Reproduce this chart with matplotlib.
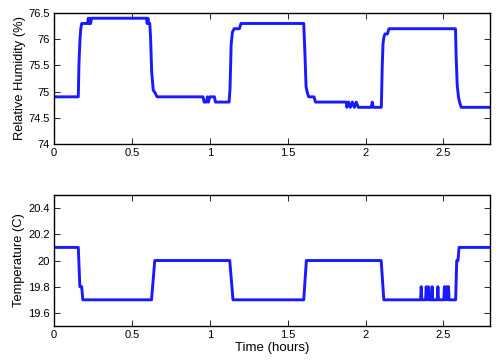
import matplotlib
matplotlib.use("Agg")
import matplotlib.pyplot as plt
from matplotlib.ticker import FuncFormatter

plt.rcParams['font.family'] = ['Liberation Sans', 'DejaVu Sans']

# Relative humidity (%) vs time (hours)
rh_time = [0, 0.156, 0.160, 0.164, 0.167, 0.172, 0.178, 0.216, 0.220, 0.226, 0.230, 0.235, 0.241,
           0.594, 0.598, 0.603, 0.608, 0.615, 0.620, 0.627, 0.637, 0.650, 0.662,
           0.957, 0.963, 0.978, 0.985, 0.991, 1.000, 1.030, 1.036, 1.124, 1.130, 1.137, 1.145,
           1.156, 1.190, 1.200, 1.603, 1.611, 1.618, 1.626, 1.635, 1.669, 1.678,
           1.876, 1.880, 1.891, 1.902, 1.915, 1.928, 1.940, 1.953, 1.966,
           2.036, 2.043, 2.049, 2.101, 2.107, 2.112, 2.118, 2.125, 2.140, 2.150,
           2.577, 2.581, 2.588, 2.596, 2.603, 2.614, 2.800]
rh_value = [74.9, 74.9, 75.5, 75.8, 76.0, 76.2, 76.3, 76.3, 76.4, 76.3, 76.4, 76.3, 76.4,
            76.4, 76.3, 76.4, 76.3, 76.3, 76.02, 75.38, 75.03, 74.97, 74.9,
            74.9, 74.8, 74.8, 74.9, 74.8, 74.9, 74.9, 74.8, 74.8, 75.06, 75.89, 76.13,
            76.2, 76.2, 76.3, 76.3, 75.7, 75.09, 74.98, 74.9, 74.9, 74.8,
            74.8, 74.7, 74.8, 74.7, 74.8, 74.7, 74.8, 74.7, 74.7,
            74.7, 74.8, 74.7, 74.7, 75.5, 75.92, 76.05, 76.1, 76.1, 76.2,
            76.2, 75.7, 75.13, 74.9, 74.8, 74.7, 74.7]

# Temperature (C) vs time (hours)
t_time = [0, 0.156, 0.166, 0.178, 0.185, 0.626, 0.647, 1.128, 1.149, 1.603, 1.620,
          2.100, 2.117, 2.353, 2.357, 2.361, 2.385, 2.389, 2.396, 2.404, 2.408,
          2.423, 2.427, 2.431, 2.460, 2.464, 2.468, 2.502, 2.506, 2.512, 2.521,
          2.526, 2.532, 2.536, 2.578, 2.585, 2.593, 2.600, 2.800]
t_value = [20.1, 20.1, 19.8, 19.8, 19.7, 19.7, 20.0, 20.0, 19.7, 19.7, 20.0,
           20.0, 19.7, 19.7, 19.8, 19.7, 19.7, 19.8, 19.7, 19.8, 19.7,
           19.7, 19.8, 19.7, 19.7, 19.8, 19.7, 19.7, 19.8, 19.7, 19.8,
           19.7, 19.8, 19.7, 19.7, 20.0, 20.0, 20.1, 20.1]

x_ticks = [0, 0.5, 1, 1.5, 2, 2.5]
rh_ticks = [74, 74.5, 75, 75.5, 76, 76.5]
t_ticks = [19.6, 19.8, 20, 20.2, 20.4]

fig = plt.figure(figsize=(4.98, 3.6), dpi=100)
ax1 = fig.add_axes([0.1084, 0.6, 0.876, 0.3639])
ax2 = fig.add_axes([0.1084, 0.0944, 0.876, 0.3639])

fmt = FuncFormatter(lambda v, p: '%g' % v)

ax1.plot(rh_time, rh_value, color='#1a1aff', lw=2.1)
ax1.set_xlim(0, 2.8)
ax1.set_ylim(74, 76.5)
ax1.set_yticks(rh_ticks)
ax1.set_ylabel('Relative Humidity (%)', fontsize=9.3, labelpad=2)

ax2.plot(t_time, t_value, color='#1a1aff', lw=2.1)
ax2.set_xlim(0, 2.8)
ax2.set_ylim(19.5, 20.5)
ax2.set_yticks(t_ticks)
ax2.set_ylabel('Temperature (C)', fontsize=9.3, labelpad=2)
ax2.set_xlabel('Time (hours)', fontsize=9.5, labelpad=1)

for ax in (ax1, ax2):
    ax.set_xticks(x_ticks)
    ax.xaxis.set_major_formatter(fmt)
    ax.yaxis.set_major_formatter(fmt)
    ax.tick_params(direction='in', top=True, right=True, labelsize=8, length=4, width=0.6, pad=3)
    for s in ax.spines.values():
        s.set_linewidth(1.0)

fig.savefig('out.png', dpi=100)
